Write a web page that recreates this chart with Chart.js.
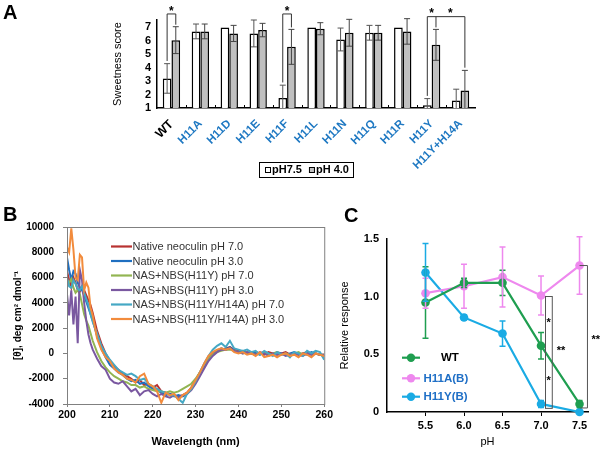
<!DOCTYPE html>
<html>
<head>
<meta charset="utf-8">
<script src="https://cdn.jsdelivr.net/npm/chart.js@4.4.0/dist/chart.umd.min.js"></script>
<style>
  body { margin: 0; background: #fff; width: 603px; height: 449px; position: relative; overflow: hidden; }
  canvas { position: absolute; }
  .panel { position: absolute; font: bold 20px Arial, "Liberation Sans", sans-serif; line-height: 20px; color: #000; z-index: 2; }
</style>
</head>
<body>
<canvas id="chartA" width="603" height="190" style="left:0;top:0"></canvas>
<canvas id="chartB" width="335" height="259" style="left:0;top:190px"></canvas>
<canvas id="chartC" width="266" height="259" style="left:337px;top:190px"></canvas>
<div class="panel" style="left:3px;top:2px">A</div>
<div class="panel" style="left:3px;top:204px">B</div>
<div class="panel" style="left:344px;top:205px">C</div>
<script>
// ---- panel A data (sweetness score) ----
const mutants = ['WT', 'H11A', 'H11D', 'H11E', 'H11F', 'H11L', 'H11N', 'H11Q', 'H11R', 'H11Y', 'H11Y+H14A'];
const scorePH75 = [3.2, 6.7, 7.0, 6.55, 1.75, 7.0, 6.1, 6.6, 7.0, 1.2, 1.55];
const errPH75 = [1.1, 0.55, 0, 1.0, 0.95, 0, 0.85, 0.55, 0, 0.5, 0.85];
const scorePH40 = [6.05, 6.7, 6.55, 6.8, 5.55, 6.9, 6.6, 6.6, 6.7, 5.7, 2.3];
const errPH40 = [1.0, 0.55, 0.6, 0.5, 1.3, 0.45, 1.0, 0.55, 0.95, 1.15, 1.5];
const scoreTicks = [1, 2, 3, 4, 5, 6, 7];

// ---- panel B data (CD spectra) ----
const wavelength = [200, 200.5, 201, 201.5, 202, 202.5, 203, 203.5, 204, 204.5, 205, 205.5, 206,
  207, 208, 209, 210, 211, 212, 213, 214, 215, 216, 217, 218, 219, 220, 221, 222, 223, 224, 225, 226,
  227, 228, 229, 230, 231, 232, 233, 234, 235, 236, 237, 238, 239, 240, 241, 242, 243, 244, 245, 246,
  247, 248, 249, 250, 251, 252, 253, 254, 255, 256, 257, 258, 259, 260];
const nativePH7 = [6500, 5800, 5200, 6000, 5600, 5000, 4900, 5300, 5000, 4600, 4200, 3800, 3200,
  1800, 800, 0, -600, -1000, -1300, -1600, -1800, -2000, -2300,
  -2100, -2500, -2400, -2700, -2500, -3000, -3100, -3200, -3300, -3400,
  -3300, -3100, -2700, -2100, -1500, -900, -300, 0, 200, 300,
  400, 500, 300, 200, 100, 100, 0, 100, 0, -100,
  100, 0, -100, 0, 100, -100, 0, -100, 0, 100,
  -100, 0, -100, -100];
const nativePH3 = [7600, 6600, 5800, 6500, 6300, 5600, 5200, 5000, 4600, 4100, 3600, 3100, 2600,
  1400, 400, -300, -900, -1200, -1500, -1700, -2000, -2200, -2100,
  -2400, -2300, -2600, -2800, -2900, -3100, -3300, -3200, -3400, -3300,
  -3400, -3200, -2800, -2200, -1600, -1000, -400, -100, 200, 400,
  300, 500, 200, 100, 200, 0, 100, 0, -100, 100,
  0, -100, 100, 0, -100, 0, 100, -100, 0, -100,
  100, 0, -100, -200];
const h11yPH7 = [5300, 5600, 5900, 5200, 4800, 5000, 4700, 3900, 3100, 2600, 2200, 1600, 1000,
  100, -600, -1100, -1500, -1800, -2000, -2200, -2300, -2500, -2500,
  -2700, -2600, -2800, -2900, -3000, -3000, -3100, -3000, -3100, -3000,
  -2800, -2600, -2400, -2000, -1500, -900, -400, -100, 100, 200,
  300, 300, 200, 100, 0, 100, 0, -100, 0, 100,
  -100, 0, 100, -100, 0, -100, 0, 100, -100, 0,
  -100, 0, -100, -100];
const h11yPH3 = [4700, 3000, 5000, 2300, 4500, 800, 6600, 5800, 4000, 2600, 1500, 800, 300,
  -400, -1000, -1300, -2000, -2300, -2400, -2200, -2600, -3000, -2800,
  -3300, -3000, -2900, -3200, -3400, -3200, -3400, -3500, -3300, -3500,
  -3300, -3200, -2900, -2400, -1800, -1200, -600, -200, 100, 300,
  300, 400, 200, 100, 0, 100, 0, -100, 100, 0,
  -200, 0, -100, 0, -200, -100, 0, -100, -200, 0,
  -100, 0, -100, -100];
const h11yh14aPH7 = [6000, 5300, 5200, 5800, 5500, 5100, 5000, 5300, 4800, 4300, 3800, 3100, 2500,
  1600, 600, 0, -500, -900, -1300, -1500, -1700, -1600, -1800,
  -2100, -2000, -2400, -2600, -2800, -3000, -3100, -3300, -3300, -3600,
  -3900, -3200, -2800, -2200, -1500, -800, -200, 300, 600, 800,
  500, 1000, 400, 300, 200, 300, 100, 200, -100, 200,
  0, -200, 100, -100, 0, -300, 100, 0, -200, 200,
  0, 200, 100, -500];
const h11yh14aPH3 = [8400, 8000, 9900, 8200, 6000, 5800, 7800, 7600, 5000, 5600, 5200, 3600, 3000,
  1200, 300, -300, -600, -1200, -1500, -1700, -2000, -2100, -2300,
  -1800, -1600, -2400, -2600, -3000, -3900, -3100, -3300, -3200, -3700,
  -3300, -3100, -2700, -2100, -1500, -800, -200, 100, 300, 400,
  300, 400, 100, 0, 100, -100, 0, -200, 100, -300,
  -200, -100, -300, -100, 0, -200, -100, -300, 0, -100,
  -300, 0, -100, -200];
const cdLabels = ['Native neoculin pH 7.0', 'Native neoculin pH 3.0', 'NAS+NBS(H11Y) pH 7.0',
  'NAS+NBS(H11Y) pH 3.0', 'NAS+NBS(H11Y/H14A) pH 7.0', 'NAS+NBS(H11Y/H14A) pH 3.0'];

// ---- panel C data (relative response) ----
const phValues = [5.5, 6.0, 6.5, 7.0, 7.5];
const wtResp = [0.95, 1.12, 1.12, 0.575, 0.07];
const wtErr = [0.31, 0.04, 0.11, 0.115, 0.03];
const h11aResp = [1.03, 1.09, 1.17, 1.01, 1.27];
const h11aErr = [0.13, 0.19, 0.26, 0.17, 0.25];
const h11yResp = [1.21, 0.82, 0.68, 0.07, 0.0];
const h11yErr = [0.25, 0.02, 0.11, 0.03, 0.01];
const phTicks = [5.5, 6.0, 6.5, 7.0, 7.5];

const FONT = 'Arial, "Liberation Sans", sans-serif';
Chart.defaults.font.family = FONT;
Chart.defaults.color = '#000';
Chart.defaults.animation = false;

// draws vertical error bars over each element of the given datasets
function errorBars(chart, errs, colors, cap, width) {
  const ctx = chart.ctx, ys = chart.scales.y;
  errs.forEach(function(list, d) {
    const meta = chart.getDatasetMeta(d);
    const vals = chart.data.datasets[d].data;
    ctx.save();
    ctx.strokeStyle = colors[d];
    ctx.lineWidth = width;
    meta.data.forEach(function(el, i) {
      const e = list[i];
      if (!e) return;
      const v = typeof vals[i] === 'object' ? vals[i].y : vals[i];
      const top = ys.getPixelForValue(v + e);
      const clipped = v - e < ys.min;
      const bot = ys.getPixelForValue(Math.max(v - e, ys.min));
      ctx.beginPath();
      ctx.moveTo(el.x, top); ctx.lineTo(el.x, bot);
      ctx.moveTo(el.x - cap, top); ctx.lineTo(el.x + cap, top);
      if (!clipped) { ctx.moveTo(el.x - cap, bot); ctx.lineTo(el.x + cap, bot); }
      ctx.stroke();
    });
    ctx.restore();
  });
}

function star(ctx, text, x, y, size) {
  ctx.save();
  ctx.fillStyle = '#000';
  ctx.font = 'bold ' + size + 'px ' + FONT;
  ctx.textAlign = 'center';
  ctx.textBaseline = 'middle';
  ctx.fillText(text, x, y + size * 0.25);
  ctx.restore();
}

// ---------------- A ----------------
// significance brackets: legs are [dataset, category, low end]
const bracketsA = [
  { legs: [[0, 0, 4.5], [1, 0, 7.2]], top: 8.0, starY: 8.4 },
  { legs: [[0, 4, 2.9], [1, 4, 7.0]], top: 8.0, starY: 8.4 },
  { legs: [[0, 9, 1.9], [1, 9, 7.0], [1, 10, 4.0]], top: 7.8, starY: 8.25 }
];

const pluginA = {
  id: 'extrasA',
  afterDatasetsDraw(chart) {
    errorBars(chart, [errPH75, errPH40], ['#555', '#444'], 3, 1);
    const ctx = chart.ctx, ys = chart.scales.y, xs = chart.scales.x, area = chart.chartArea;
    // small inner ticks between categories
    ctx.save();
    ctx.strokeStyle = '#000';
    ctx.lineWidth = 1;
    for (let i = 1; i < mutants.length; i++) {
      const x = Math.round((xs.getPixelForValue(i - 1) + xs.getPixelForValue(i)) / 2) + 0.5;
      ctx.beginPath(); ctx.moveTo(x, area.bottom); ctx.lineTo(x, area.bottom - 3); ctx.stroke();
    }
    // brackets
    ctx.strokeStyle = '#333';
    bracketsA.forEach(function(b) {
      const xsL = b.legs.map(l => chart.getDatasetMeta(l[0]).data[l[1]].x);
      const topY = ys.getPixelForValue(b.top);
      ctx.beginPath();
      ctx.moveTo(xsL[0], topY); ctx.lineTo(xsL[xsL.length - 1], topY);
      b.legs.forEach(function(l, k) {
        ctx.moveTo(xsL[k], topY); ctx.lineTo(xsL[k], ys.getPixelForValue(l[2]));
      });
      ctx.stroke();
      for (let k = 0; k < xsL.length - 1; k++) {
        star(ctx, '*', (xsL[k] + xsL[k + 1]) / 2, ys.getPixelForValue(b.starY), 12);
      }
    });
    // legend box
    const ds = chart.data.datasets;
    ctx.font = 'bold 11px ' + FONT;
    ctx.textBaseline = 'middle';
    ctx.textAlign = 'left';
    let x = 265;
    const yMid = 170;
    ctx.strokeStyle = '#000';
    ctx.strokeRect(259.5, 162.5, 94, 15);
    ds.forEach(function(d) {
      ctx.fillStyle = d.backgroundColor;
      ctx.fillRect(x, yMid - 3, 6, 6);
      ctx.strokeRect(x + 0.5, yMid - 2.5, 5, 5);
      ctx.fillStyle = '#000';
      ctx.fillText(d.label, x + 7, yMid);
      x += 7 + ctx.measureText(d.label).width + 7;
    });
    ctx.restore();
  }
};

new Chart(document.getElementById('chartA'), {
  type: 'bar',
  data: {
    labels: mutants,
    datasets: [
      { label: 'pH7.5', data: scorePH75, backgroundColor: '#ffffff', borderColor: '#000', borderWidth: 1.5, borderSkipped: 'bottom' },
      { label: 'pH 4.0', data: scorePH40, backgroundColor: '#c0c0c0', borderColor: '#000', borderWidth: 1.5, borderSkipped: 'bottom' }
    ]
  },
  options: {
    responsive: false,
    devicePixelRatio: 1,
    categoryPercentage: 0.6,
    barPercentage: 1.0,
    layout: { padding: { left: 107, right: 128, top: 20, bottom: 0 } },
    plugins: { legend: { display: false }, tooltip: { enabled: false } },
    scales: {
      x: {
        grid: { display: false },
        border: { color: '#000', width: 1.5 },
        ticks: {
          minRotation: 45, maxRotation: 45, padding: 1, autoSkip: false,
          color: c => c.index === 0 ? '#000' : '#1e78c2',
          font: c => ({ weight: 'bold', size: c.index === 0 ? 12.5 : 11.5 })
        },
        afterFit: s => { s.height = 82; }
      },
      y: {
        min: 1, max: 7.55,
        afterBuildTicks: s => { s.ticks = scoreTicks.map(v => ({ value: v })); },
        grid: { display: false, drawTicks: false },
        border: { color: '#000', width: 1.5 },
        ticks: { font: { weight: 'bold', size: 11 }, padding: 6, autoSkip: false },
        title: { display: true, text: 'Sweetness score', font: { size: 11 }, padding: { top: 4, bottom: 0 } },
        afterFit: s => { s.width = 50; }
      }
    }
  },
  plugins: [pluginA]
});

// ---------------- B ----------------
const cdColors = ['#b83230', '#1f6fc0', '#92b552', '#7a58a0', '#45a8c4', '#f28b3c'];
const cdSeries = [nativePH7, nativePH3, h11yPH7, h11yPH3, h11yh14aPH7, h11yh14aPH3];

const pluginB = {
  id: 'extrasB',
  afterDraw(chart) {
    const ctx = chart.ctx, a = chart.chartArea;
    ctx.save();
    ctx.strokeStyle = '#808080';
    ctx.lineWidth = 1;
    ctx.strokeRect(Math.round(a.left) + 0.5, Math.round(a.top) + 0.5, a.right - a.left, a.bottom - a.top);
    // legend inside plot
    ctx.font = '11px ' + FONT;
    ctx.textBaseline = 'middle';
    ctx.textAlign = 'left';
    chart.data.datasets.forEach(function(d, i) {
      const y = a.top + 19.5 + i * 14.5;
      ctx.strokeStyle = d.borderColor;
      ctx.lineWidth = 2.2;
      ctx.beginPath(); ctx.moveTo(a.left + 44, y); ctx.lineTo(a.left + 65, y); ctx.stroke();
      ctx.fillStyle = '#333';
      ctx.fillText(d.label, a.left + 65.5, y + 0.5);
    });
    ctx.restore();
  }
};

new Chart(document.getElementById('chartB'), {
  type: 'line',
  data: {
    datasets: cdSeries.map(function(s, i) {
      return {
        label: cdLabels[i],
        data: wavelength.map((w, k) => ({ x: w, y: s[k] })),
        borderColor: cdColors[i],
        borderWidth: 2,
        pointRadius: 0,
        tension: 0,
        order: cdSeries.length - i
      };
    })
  },
  options: {
    responsive: false,
    devicePixelRatio: 1,
    layout: { padding: { left: 8, right: 10, top: 37, bottom: 0 } },
    plugins: { legend: { display: false }, tooltip: { enabled: false } },
    scales: {
      x: {
        type: 'linear', min: 200, max: 260,
        ticks: { stepSize: 10, font: { weight: 'bold', size: 10.5 }, padding: 2 },
        grid: { drawOnChartArea: false, tickLength: 3, color: '#808080' },
        border: { color: '#808080' },
        title: { display: true, text: 'Wavelength (nm)', font: { weight: 'bold', size: 11 }, padding: { top: 3, bottom: 0 } },
        afterFit: s => { s.height = 45; }
      },
      y: {
        min: -4000, max: 10000,
        ticks: { stepSize: 2000, callback: v => String(v), font: { weight: 'bold', size: 10 }, padding: 9, autoSkip: false },
        grid: { drawOnChartArea: false, tickLength: 4, color: '#808080' },
        border: { color: '#808080' },
        title: { display: true, text: '[θ], deg cm² dmol⁻¹', font: { weight: 'bold', size: 10 }, padding: { top: 4, bottom: 0 } },
        afterFit: s => { s.width = 59; }
      }
    }
  },
  plugins: [pluginB]
});

// ---------------- C ----------------
const respColors = ['#1f9e50', '#ee88ee', '#1aabe4'];
const respSeries = [wtResp, h11aResp, h11yResp];
const respLabels = ['WT', 'H11A(B)', 'H11Y(B)'];

const pluginC = {
  id: 'extrasC',
  afterDatasetsDraw(chart) {
    errorBars(chart, [wtErr, h11aErr, h11yErr], respColors, 3, 1.5);
    const ctx = chart.ctx, xs = chart.scales.x, ys = chart.scales.y, a = chart.chartArea;
    const px = v => xs.getPixelForValue(v), py = v => ys.getPixelForValue(v);
    ctx.save();
    ctx.strokeStyle = '#555';
    ctx.lineWidth = 1;
    // bracket box at pH 7.0
    ctx.strokeRect(Math.round(px(7.055)) + 0.5, Math.round(py(1.01)) + 0.5, px(7.143) - px(7.055), py(0.04) - py(1.01));
    star(ctx, '*', px(7.1), py(0.8), 11);
    star(ctx, '*', px(7.1), py(0.295), 11);
    star(ctx, '**', px(7.26), py(0.555), 11);
    // bracket at pH 7.5
    ctx.beginPath();
    ctx.moveTo(px(7.5), py(1.27)); ctx.lineTo(px(7.603), py(1.27));
    ctx.lineTo(px(7.603), py(0.035)); ctx.lineTo(px(7.51), py(0.035));
    ctx.stroke();
    star(ctx, '**', px(7.71), py(0.65), 11);
    // legend
    ctx.font = 'bold 11.5px ' + FONT;
    ctx.textBaseline = 'middle';
    ctx.textAlign = 'left';
    const rows = [118.7, 139.3, 157.7];
    chart.data.datasets.forEach(function(d, i) {
      const y = a.top + rows[i];
      ctx.strokeStyle = d.borderColor;
      ctx.lineWidth = 2.2;
      ctx.beginPath(); ctx.moveTo(a.left + 15, y); ctx.lineTo(a.left + 33, y); ctx.stroke();
      ctx.fillStyle = d.borderColor;
      ctx.beginPath(); ctx.arc(a.left + 24, y, 4.2, 0, Math.PI * 2); ctx.fill();
      ctx.fillStyle = i === 0 ? '#000' : '#1f6fc6';
      ctx.fillText(d.label, i === 0 ? a.left + 54 : a.left + 36.5, y + 0.5);
    });
    ctx.restore();
  }
};

new Chart(document.getElementById('chartC'), {
  type: 'line',
  data: {
    datasets: respSeries.map(function(s, i) {
      return {
        label: respLabels[i],
        data: phValues.map((p, k) => ({ x: p, y: s[k] })),
        borderColor: respColors[i],
        backgroundColor: respColors[i],
        borderWidth: 2.2,
        pointRadius: 4.3,
        pointBorderWidth: 0,
        tension: 0,
        clip: false
      };
    })
  },
  options: {
    responsive: false,
    devicePixelRatio: 1,
    layout: { padding: { left: 0, right: 15, top: 49, bottom: 0 } },
    plugins: { legend: { display: false }, tooltip: { enabled: false } },
    scales: {
      x: {
        type: 'linear', min: 5.0, max: 7.61,
        afterBuildTicks: s => { s.ticks = phTicks.map(v => ({ value: v })); },
        ticks: { callback: v => v.toFixed(1), font: { weight: 'bold', size: 11 }, padding: 3 },
        grid: { drawOnChartArea: false, tickLength: 4, color: '#000' },
        border: { color: '#000', width: 1.5 },
        title: { display: true, text: 'pH', font: { size: 11 }, padding: { top: 1, bottom: 0 } },
        afterFit: s => { s.height = 37; }
      },
      y: {
        min: 0, max: 1.5,
        ticks: { stepSize: 0.5, callback: v => v === 0 ? '0' : v.toFixed(1), font: { weight: 'bold', size: 11 }, padding: 8 },
        grid: { display: false, drawTicks: false },
        border: { color: '#000', width: 1.5 },
        title: { display: true, text: 'Relative response', font: { size: 11 }, padding: { top: 1, bottom: 0 } },
        afterFit: s => { s.width = 50; }
      }
    }
  },
  plugins: [pluginC]
});
</script>
</body>
</html>
